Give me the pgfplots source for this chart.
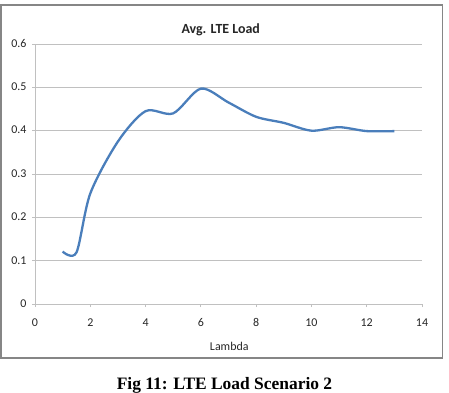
\documentclass[border=0pt]{standalone}
\usepackage{pgfplots}
\pgfplotsset{compat=1.18}
\usepackage{fontspec}
\setmainfont{Carlito}
\newfontfamily\capfont{Liberation Serif}
\definecolor{lineblue}{RGB}{74,126,187}
\definecolor{gridgray}{RGB}{192,192,192}
\definecolor{framegray}{RGB}{134,134,134}
\begin{document}
\begin{tikzpicture}[x=1bp,y=1bp]
\path[use as bounding box] (0,0) rectangle (449,392);
\draw[framegray, line width=1.5bp] (1,34) rectangle (442.5,387);
\begin{axis}[
  at={(35bp,88bp)}, anchor=south west,
  width=387bp, height=260bp, scale only axis,
  xmin=0, xmax=14, ymin=0, ymax=0.6,
  xtick={0,2,4,6,8,10,12,14},
  ytick={0,0.1,0.2,0.3,0.4,0.5,0.6},
  yticklabels={0,0.1,0.2,0.3,0.4,0.5,0.6},
  axis x line*=bottom, axis y line*=left,
  axis line style={-, gridgray, line width=1bp},
  ymajorgrids, grid style={gridgray, line width=1bp},
  tick align=outside, major tick length=3bp,
  tick style={gridgray, line width=0.8bp},
  /pgf/number format/assume math mode=true,
  tick label style={font=\fontsize{12}{12}\selectfont, text=black!85, text height=1.6ex, text depth=0.2ex},
  xticklabel style={yshift=-8bp},
  yticklabel style={xshift=-2bp},
  title={\textbf{Avg. LTE Load}},
  title style={at={(axis description cs:0.48,1)}, anchor=center, yshift=8bp, font=\fontsize{14}{14}\selectfont, text=black!85},
  xlabel={Lambda},
  xlabel style={at={(axis description cs:0.502,0)}, anchor=center, yshift=-42bp, font=\fontsize{12}{12}\selectfont, text=black!85},
]
\addplot[lineblue, line width=2.3bp, smooth, tension=0.5] coordinates {
  (1,0.121) (1.5,0.119) (2,0.255) (3,0.375) (4,0.445) (5,0.440) (6,0.497)
  (7,0.465) (8,0.432) (9,0.418) (10,0.400) (11,0.408) (12,0.399) (13,0.399)
};
\end{axis}
\node[anchor=base, font=\capfont\bfseries\fontsize{17.5}{17.5}\selectfont] at (224.5,3) {Fig 11: LTE Load Scenario 2};
\end{tikzpicture}
\end{document}
